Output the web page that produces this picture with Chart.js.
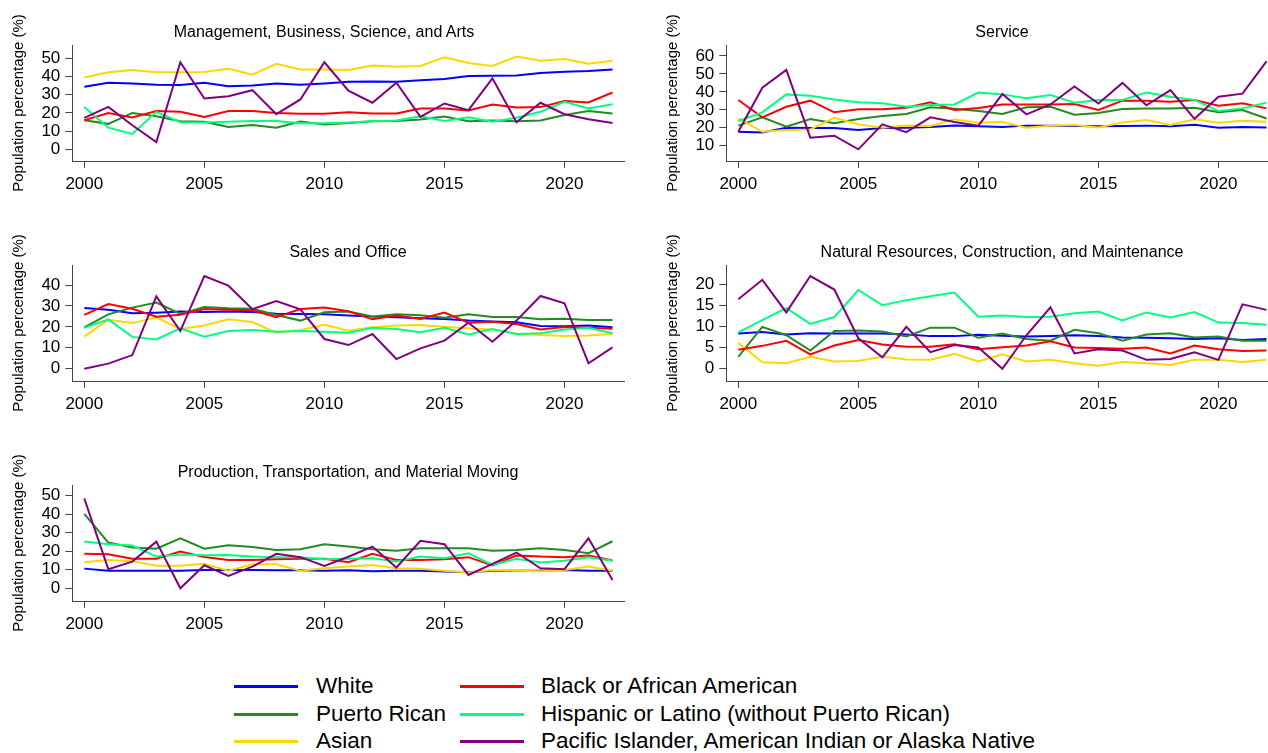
<!DOCTYPE html>
<html>
<head>
<meta charset="utf-8">
<script src="https://cdn.jsdelivr.net/npm/chart.js@4.4.1/dist/chart.umd.min.js"></script>
<style>
  html, body { margin: 0; padding: 0; background: #fff; overflow: hidden; width: 1268px; height: 753px; }
  body { position: relative; font-family: "Liberation Sans", Arial, sans-serif; color: #000; }
  canvas { position: absolute; }
  .title { position: absolute; font-size: 16px; white-space: nowrap; transform: translate(-50%, -50%); }
  .lgline { position: absolute; width: 64px; height: 3px; }
  .lgtext { position: absolute; font-size: 22.5px; white-space: nowrap; transform: translateY(-50%); }
</style>
</head>
<body>
<script>
// years and tick labels
const years = [2000, 2001, 2002, 2003, 2004, 2005, 2006, 2007, 2008, 2009, 2010, 2011,
               2012, 2013, 2014, 2015, 2016, 2017, 2018, 2019, 2020, 2021, 2022];
const xTicks = [2000, 2005, 2010, 2015, 2020];

const groups = ['White', 'Puerto Rican', 'Asian', 'Black or African American',
                'Hispanic or Latino (without Puerto Rican)',
                'Pacific Islander, American Indian or Alaska Native'];
const colors = ['#0000ff', '#228b22', '#ffd700', '#ff0000', '#00ff7f', '#800080'];

// Management, Business, Science, and Arts
const mgmtTicks = [0, 10, 20, 30, 40, 50];
const mgmtWhite = [34.4, 36.6, 36.2, 35.5, 35.3, 36.6, 34.7, 35.1, 36.2, 35.5, 36.2, 37.1, 37.3, 37.1, 37.9, 38.6, 40.3, 40.4, 40.6, 41.9, 42.6, 43.0, 43.8];
const mgmtPuerto = [16.0, 14.0, 20.0, 18.2, 15.4, 15.1, 12.3, 13.4, 11.9, 15.3, 13.6, 14.5, 15.4, 15.6, 16.4, 18.0, 15.4, 15.8, 15.4, 15.8, 18.9, 21.1, 19.7];
const mgmtAsian = [39.5, 42.3, 43.6, 42.3, 42.3, 42.5, 44.3, 41.0, 47.0, 43.9, 43.9, 43.6, 46.0, 45.4, 45.8, 50.5, 47.4, 45.8, 51.0, 48.7, 49.6, 47.0, 48.7];
const mgmtBlack = [16.0, 20.0, 17.5, 21.0, 20.6, 17.8, 21.0, 21.0, 20.0, 19.5, 19.5, 20.4, 19.7, 19.7, 22.4, 22.4, 21.3, 24.6, 23.0, 23.2, 26.5, 25.7, 31.2];
const mgmtHispanic = [23.3, 11.9, 8.5, 20.6, 14.9, 14.7, 15.1, 15.6, 15.6, 14.3, 14.3, 14.7, 15.4, 15.8, 18.2, 15.6, 17.6, 15.1, 17.3, 20.6, 26.1, 22.4, 24.8];
const mgmtPacific = [17.3, 23.3, 13.2, 4.0, 47.8, 27.9, 29.2, 32.5, 19.3, 27.4, 47.8, 32.2, 25.6, 36.6, 17.8, 25.2, 21.5, 39.0, 14.9, 25.6, 19.3, 16.5, 14.5];

// Service
const servTicks = [10, 20, 30, 40, 50, 60];
const servWhite = [17.8, 17.4, 20.0, 19.9, 19.9, 18.7, 19.9, 20.0, 20.4, 21.2, 20.8, 20.4, 21.2, 21.2, 21.0, 20.8, 21.0, 21.2, 20.8, 21.7, 20.0, 20.4, 20.2];
const servPuerto = [21.2, 25.8, 20.6, 24.9, 22.5, 24.9, 26.5, 27.7, 31.4, 30.6, 29.3, 27.7, 31.4, 31.7, 27.3, 28.2, 30.4, 30.8, 30.8, 31.2, 28.6, 29.9, 25.2];
const servAsian = [25.2, 17.8, 18.7, 19.1, 25.6, 21.9, 20.0, 21.2, 21.0, 24.7, 22.8, 23.4, 20.0, 21.2, 21.5, 20.2, 23.0, 24.3, 21.5, 24.7, 22.8, 23.9, 23.4];
const servBlack = [35.5, 25.8, 31.7, 35.1, 28.6, 30.3, 30.3, 31.2, 34.2, 29.9, 31.0, 32.9, 33.0, 33.0, 33.2, 29.9, 35.1, 35.1, 34.5, 35.5, 32.3, 33.6, 30.8];
const servHispanic = [23.8, 28.6, 38.6, 37.9, 35.8, 34.2, 33.6, 31.7, 32.7, 33.0, 39.6, 38.6, 36.4, 38.3, 34.0, 35.5, 35.5, 39.7, 37.3, 35.5, 29.3, 30.8, 34.0];
const servPacific = [17.8, 42.3, 52.2, 14.5, 15.6, 8.0, 21.9, 17.6, 25.8, 23.2, 21.2, 38.8, 27.5, 33.0, 43.0, 33.5, 45.0, 32.5, 41.0, 25.0, 37.3, 39.0, 57.0];

// Sales and Office
const salesTicks = [0, 10, 20, 30, 40];
const salesWhite = [29.0, 28.2, 26.5, 26.8, 27.3, 27.1, 27.3, 27.1, 26.3, 26.2, 26.0, 25.4, 24.9, 24.6, 24.1, 23.8, 23.0, 22.6, 22.2, 20.4, 20.3, 20.6, 19.8];
const salesPuerto = [19.8, 26.0, 29.2, 31.6, 26.2, 29.5, 28.9, 28.7, 25.7, 23.0, 27.0, 27.3, 25.0, 26.0, 25.5, 24.4, 26.0, 24.7, 24.7, 23.6, 23.9, 23.3, 23.3];
const salesAsian = [15.3, 23.4, 21.8, 24.6, 19.0, 20.7, 23.6, 22.3, 17.2, 18.5, 21.0, 18.2, 19.8, 20.6, 20.9, 20.1, 19.3, 18.8, 16.7, 16.1, 15.6, 15.9, 16.6];
const salesBlack = [25.7, 30.9, 28.7, 24.9, 25.8, 28.5, 28.2, 27.9, 24.6, 28.5, 29.3, 27.5, 23.6, 25.4, 23.8, 26.8, 22.0, 22.5, 21.4, 18.8, 19.9, 19.6, 19.1];
const salesHispanic = [19.5, 23.6, 15.2, 14.0, 19.3, 15.3, 18.0, 18.5, 17.7, 18.0, 17.7, 17.2, 19.6, 19.0, 17.4, 19.6, 16.4, 19.0, 16.6, 16.9, 18.7, 19.6, 16.9];
const salesPacific = [0.0, 2.4, 6.5, 34.6, 18.0, 44.3, 39.7, 28.5, 32.4, 28.4, 14.2, 11.3, 16.6, 4.6, 9.7, 13.4, 22.0, 12.9, 23.0, 34.8, 31.3, 2.6, 10.2];

// Natural Resources, Construction, and Maintenance
const natTicks = [0, 5, 10, 15, 20];
const natWhite = [8.3, 8.7, 8.1, 8.4, 8.3, 8.3, 8.3, 8.1, 7.7, 7.7, 8.0, 7.8, 7.6, 7.7, 7.9, 7.7, 7.4, 7.3, 7.2, 7.0, 7.2, 6.8, 7.0];
const natPuerto = [2.8, 9.9, 7.9, 4.3, 8.9, 9.0, 8.8, 7.6, 9.7, 9.7, 7.3, 8.3, 7.0, 6.6, 9.2, 8.4, 6.6, 8.1, 8.4, 7.4, 7.6, 6.6, 6.6];
const natAsian = [6.1, 1.5, 1.3, 2.8, 1.7, 1.8, 2.9, 2.2, 2.1, 3.5, 1.7, 3.4, 1.7, 2.1, 1.3, 0.7, 1.6, 1.3, 0.9, 2.1, 2.1, 1.6, 2.1];
const natBlack = [4.5, 5.4, 6.6, 3.4, 5.5, 6.8, 5.7, 5.2, 5.2, 5.8, 4.6, 5.1, 5.5, 6.5, 5.0, 4.9, 4.7, 5.0, 3.6, 5.5, 4.6, 4.2, 4.3];
const natHispanic = [8.6, 11.5, 14.3, 10.6, 12.2, 18.6, 15.0, 16.2, 17.1, 18.0, 12.3, 12.6, 12.2, 12.3, 13.1, 13.5, 11.4, 13.3, 12.1, 13.4, 10.9, 10.8, 10.4];
const natPacific = [16.4, 21.0, 13.3, 21.9, 18.7, 7.2, 2.7, 9.9, 3.9, 5.6, 5.0, 0.0, 7.9, 14.5, 3.6, 4.6, 4.3, 2.1, 2.3, 3.9, 2.1, 15.2, 13.9];

// Production, Transportation, and Material Moving
const prodTicks = [0, 10, 20, 30, 40, 50];
const prodWhite = [10.6, 9.5, 9.5, 9.5, 9.4, 9.9, 9.9, 9.9, 9.7, 9.7, 9.4, 9.7, 9.2, 9.4, 9.5, 9.0, 8.6, 9.4, 9.5, 9.4, 9.9, 9.5, 9.5];
const prodPuerto = [40.2, 24.7, 22.0, 21.4, 27.0, 21.4, 23.2, 22.3, 20.7, 21.1, 23.8, 22.5, 21.1, 20.2, 21.6, 21.6, 21.6, 20.2, 20.7, 21.6, 20.7, 18.9, 25.4];
const prodAsian = [14.1, 15.3, 14.6, 12.1, 12.1, 13.2, 9.5, 13.0, 13.0, 9.4, 10.8, 11.7, 12.6, 10.8, 10.5, 9.4, 8.5, 9.9, 9.5, 9.2, 9.9, 11.7, 9.5];
const prodBlack = [18.6, 18.4, 15.9, 15.9, 19.8, 16.9, 15.3, 15.3, 15.7, 15.9, 15.9, 14.1, 18.6, 15.3, 15.3, 15.7, 16.8, 12.3, 17.7, 17.1, 16.8, 17.7, 15.0];
const prodHispanic = [25.2, 23.8, 23.1, 17.1, 18.2, 17.8, 18.0, 17.1, 16.8, 16.8, 15.7, 15.9, 16.2, 14.4, 17.1, 16.2, 18.9, 12.6, 15.9, 13.9, 14.8, 16.8, 14.8];
const prodPacific = [48.5, 10.3, 14.4, 25.2, 0.0, 12.4, 6.7, 11.7, 18.6, 16.8, 12.1, 17.0, 22.5, 11.2, 25.6, 23.8, 7.2, 13.2, 19.3, 10.8, 10.3, 27.0, 4.5];

const FONT = '"Liberation Sans", Arial, sans-serif';

const panels = [
  { title: 'Management, Business, Science, and Arts', left: 0, top: 0, titleX: 324,
    series: [mgmtWhite, mgmtPuerto, mgmtAsian, mgmtBlack, mgmtHispanic, mgmtPacific],
    yMin: -6.4, yMax: 57.3, yTicks: mgmtTicks },
  { title: 'Service', left: 654, top: 0, titleX: 1002,
    series: [servWhite, servPuerto, servAsian, servBlack, servHispanic, servPacific],
    yMin: 1.5, yMax: 66.1, yTicks: servTicks },
  { title: 'Sales and Office', left: 0, top: 220, titleX: 348,
    series: [salesWhite, salesPuerto, salesAsian, salesBlack, salesHispanic, salesPacific],
    yMin: -5.9, yMax: 49.6, yTicks: salesTicks },
  { title: 'Natural Resources, Construction, and Maintenance', left: 654, top: 220, titleX: 1002,
    series: [natWhite, natPuerto, natAsian, natBlack, natHispanic, natPacific],
    yMin: -2.9, yMax: 24.5, yTicks: natTicks },
  { title: 'Production, Transportation, and Material Moving', left: 0, top: 440, titleX: 348,
    series: [prodWhite, prodPuerto, prodAsian, prodBlack, prodHispanic, prodPacific],
    yMin: -6.9, yMax: 55.8, yTicks: prodTicks },
];

const axisColor = '#444';

panels.forEach(p => {
  const cv = document.createElement('canvas');
  cv.width = 650;
  cv.height = 215;
  cv.style.left = p.left + 'px';
  cv.style.top = p.top + 'px';
  document.body.appendChild(cv);

  const t = document.createElement('div');
  t.className = 'title';
  t.textContent = p.title;
  t.style.left = p.titleX + 'px';
  t.style.top = (p.top + 32) + 'px';
  document.body.appendChild(t);

  new Chart(cv, {
    type: 'line',
    data: {
      datasets: p.series.map((vals, i) => ({
        label: groups[i],
        data: years.map((yr, k) => ({ x: yr, y: vals[k] })),
        borderColor: colors[i],
        borderWidth: 2,
        pointRadius: 0,
        tension: 0,
        fill: false,
        order: groups.length - i
      }))
    },
    options: {
      responsive: false,
      animation: false,
      layout: { padding: { top: 45, left: 0, right: 25.5, bottom: 0 } },
      plugins: { legend: { display: false }, tooltip: { enabled: false }, title: { display: false } },
      scales: {
        x: {
          type: 'linear',
          min: 1999.5,
          max: 2022.5,
          afterBuildTicks: s => { s.ticks = xTicks.map(v => ({ value: v })); },
          afterFit: s => { s.height = 54; },
          grid: { drawOnChartArea: false, drawTicks: true, tickLength: 7, color: axisColor, lineWidth: 1 },
          border: { display: true, color: axisColor, width: 1 },
          ticks: { color: '#000', font: { size: 17, family: FONT }, padding: 6,
                   maxRotation: 0, autoSkip: false, callback: v => String(v) }
        },
        y: {
          type: 'linear',
          min: p.yMin,
          max: p.yMax,
          afterBuildTicks: s => { s.ticks = p.yTicks.map(v => ({ value: v })); },
          afterFit: s => { s.width = 72.3; },
          grid: { drawOnChartArea: false, drawTicks: true, tickLength: 7, color: axisColor, lineWidth: 1 },
          border: { display: true, color: axisColor, width: 1 },
          ticks: { color: '#000', font: { size: 17, family: FONT }, padding: 5,
                   autoSkip: false, callback: v => String(v) },
          title: { display: true, text: 'Population percentage (%)', color: '#000',
                   font: { size: 15, family: FONT }, padding: { top: 10, bottom: 0 } }
        }
      }
    }
  });
});

// legend (two columns, filled column-wise)
const lgLineX = [234, 460];
const lgTextX = [316, 541];
const lgRowY = [686, 714, 741];
groups.forEach((g, i) => {
  const col = Math.floor(i / 3), row = i % 3;
  const ln = document.createElement('div');
  ln.className = 'lgline';
  ln.style.background = colors[i];
  ln.style.left = lgLineX[col] + 'px';
  ln.style.top = (lgRowY[row] - 1.5) + 'px';
  document.body.appendChild(ln);
  const tx = document.createElement('div');
  tx.className = 'lgtext';
  tx.textContent = g;
  tx.style.left = lgTextX[col] + 'px';
  tx.style.top = lgRowY[row] + 'px';
  document.body.appendChild(tx);
});
</script>
</body>
</html>
